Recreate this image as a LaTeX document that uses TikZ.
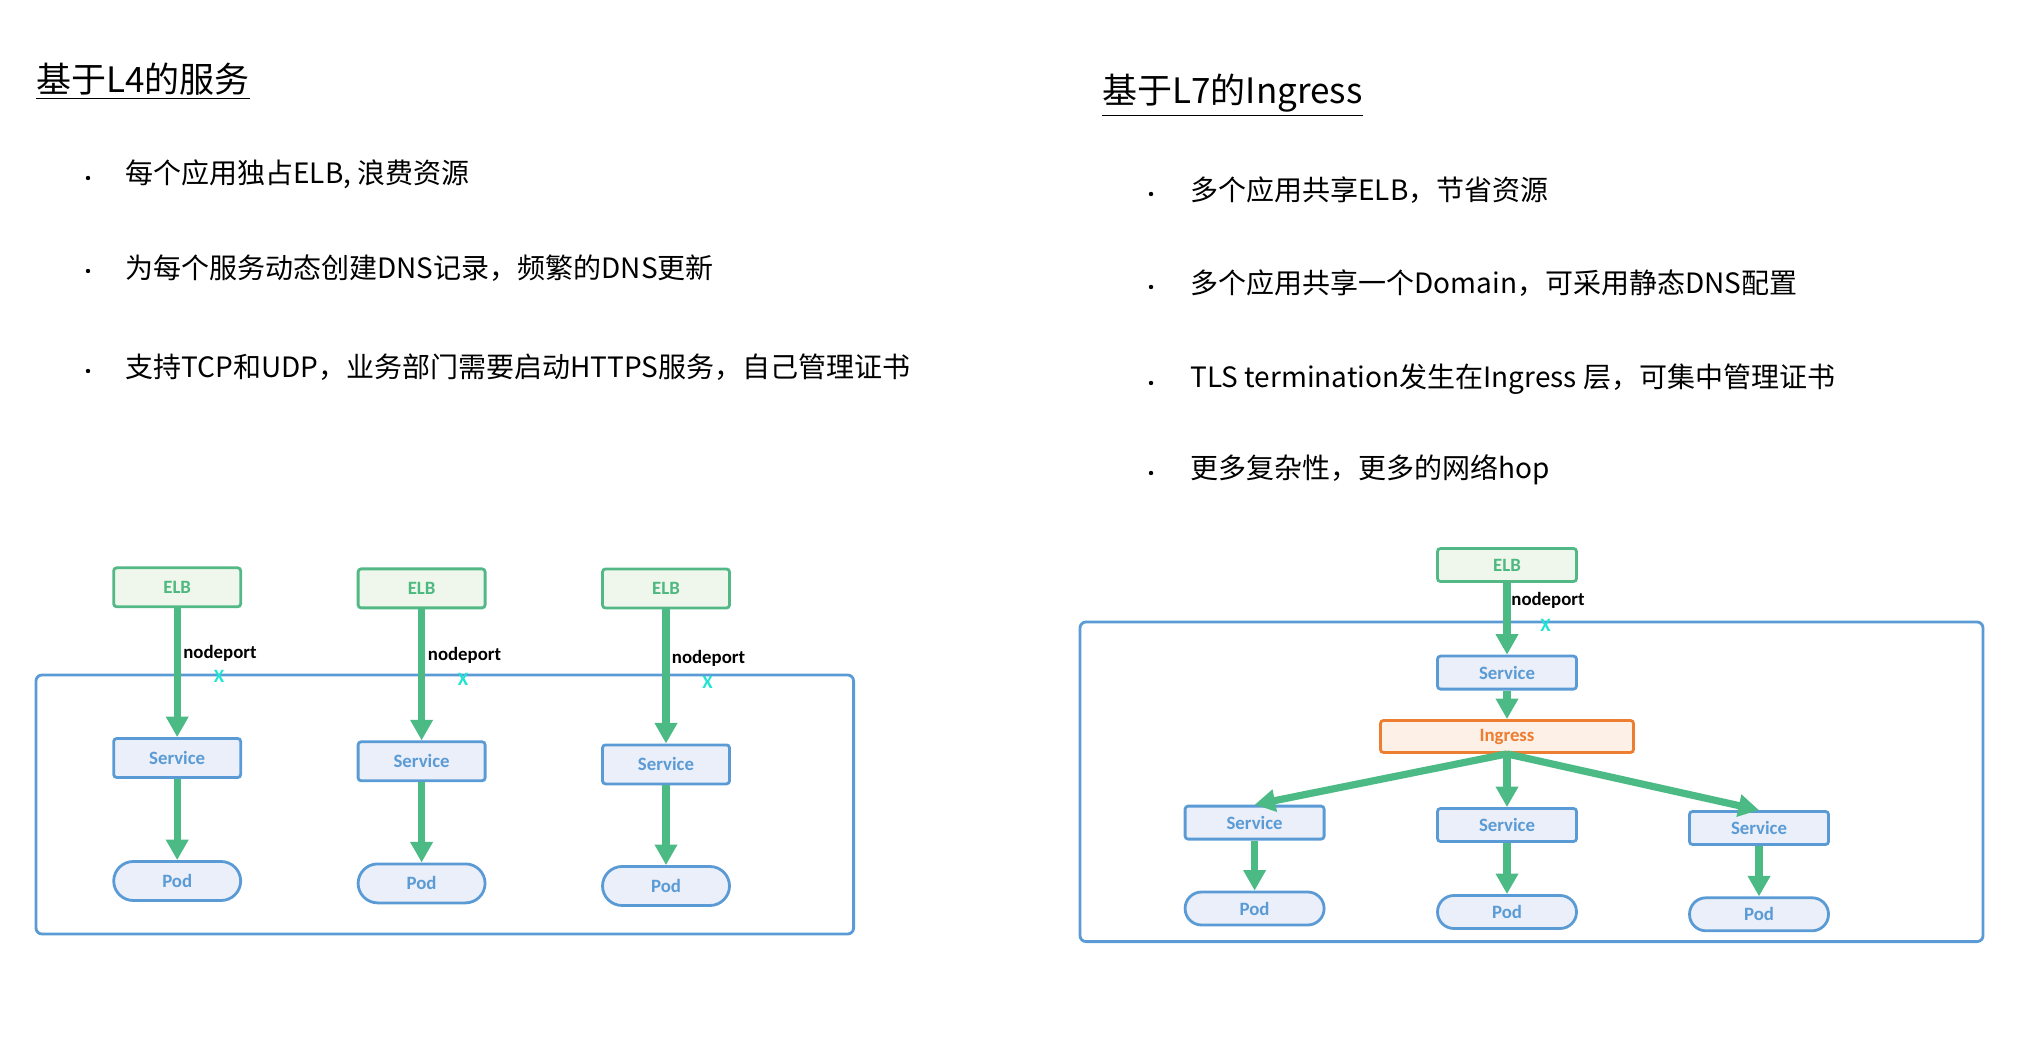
\documentclass[tikz,border=0pt]{standalone}
\usepackage{fontspec}
\setmainfont{Noto Sans CJK SC}
\newfontfamily\lblfont{Carlito}
\usetikzlibrary{arrows.meta}
\definecolor{flowgreen}{RGB}{75,186,133}
\definecolor{elbline}{RGB}{82,185,134}
\definecolor{elbfill}{RGB}{239,247,236}
\definecolor{elbtext}{RGB}{77,184,127}
\definecolor{blueline}{RGB}{91,155,213}
\definecolor{bluefill}{RGB}{234,239,249}
\definecolor{orline}{RGB}{237,125,49}
\definecolor{orfill}{RGB}{252,240,231}
\definecolor{xcyan}{RGB}{30,228,210}
\begin{document}
\begin{tikzpicture}[x=0.5pt,y=-0.5pt,
  lbl/.style={font=\lblfont\bfseries\fontsize{9.4}{11}\selectfont, inner sep=0pt},
  elbbox/.style={lbl, draw=elbline, fill=elbfill, text=elbtext, line width=1.4pt, rounded corners=1.5pt},
  svcbox/.style={lbl, draw=blueline, fill=bluefill, text=blueline, line width=1.4pt, rounded corners=1.5pt},
  ingbox/.style={lbl, draw=orline, fill=orfill, text=orline, line width=1.4pt, rounded corners=1.5pt, minimum width=126.5pt, minimum height=16pt},
  lsize/.style={minimum width=63.5pt, minimum height=19.5pt},
  rsize/.style={minimum width=69.5pt, minimum height=16.5pt},
  lpod/.style={svcbox, lsize, rounded corners=9.8pt},
  rpod/.style={svcbox, rsize, rounded corners=8.2pt},
  cluster/.style={draw=blueline, line width=1.4pt, rounded corners=3pt},
  flow/.style={draw=flowgreen, line width=3.6pt, -{Triangle[width=10.8pt,length=10.3pt]}},
  port/.style={lbl, anchor=west},
  xmark/.style={lbl, text=xcyan},
  title/.style={anchor=west, inner sep=0pt, font=\fontsize{17.5}{20}\selectfont},
  item/.style={anchor=west, inner sep=0pt, font=\fontsize{14}{17}\selectfont},
  dot/.style={circle, fill=black, inner sep=0pt, minimum size=2.2pt}
]
\useasboundingbox (0,0) rectangle (2028,1052);

% ---------- titles ----------
\node[title] (t1) at (36,81) {\underline{基于L4的服务}};
\node[title] (t2) at (1102,95) {\underline{基于L7的Ingress}};

% ---------- left bullets ----------
\node[dot] (d1) at (88,178) {};
\node[item] (b1) at (125,174.6) {每个应用独占ELB, 浪费资源};
\node[dot] (d2) at (88,271) {};
\node[item] (b2) at (125,267.7) {为每个服务动态创建DNS记录，频繁的DNS更新};
\node[dot] (d3) at (88,371) {};
\node[item] (b3) at (125,367.3) {支持TCP和UDP，业务部门需要启动HTTPS服务，自己管理证书};

% ---------- right bullets ----------
\node[dot] (e1) at (1151,194) {};
\node[item] (c1) at (1190,190) {多个应用共享ELB，节省资源};
\node[dot] (e2) at (1151,287) {};
\node[item] (c2) at (1190,283) {多个应用共享一个Domain，可采用静态DNS配置};
\node[dot] (e3) at (1151,383) {};
\node[item] (c3) at (1190,379) {TLS termination发生在Ingress 层，可集中管理证书};
\node[dot] (e4) at (1151,473) {};
\node[item] (c4) at (1190,469.5) {更多复杂性，更多的网络hop};

% ---------- left diagram ----------
\draw[cluster] (36,675) rectangle (853.6,934);

\node[elbbox, lsize] (elb1) at (177.2,587.3) {ELB};
\node[svcbox, lsize] (svc1) at (177.2,758) {Service};
\node[lpod] (pod1) at (177.2,881) {Pod};
\node[elbbox, lsize] (elb2) at (421.6,588.4) {ELB};
\node[svcbox, lsize] (svc2) at (421.6,761.3) {Service};
\node[lpod] (pod2) at (421.6,883.4) {Pod};
\node[elbbox, lsize] (elb3) at (666,588.5) {ELB};
\node[svcbox, lsize] (svc3) at (666,764.4) {Service};
\node[lpod] (pod3) at (666,886) {Pod};

\draw[flow] (elb1.south) -- (svc1.north);
\draw[flow] (svc1.south) -- (pod1.north);
\draw[flow] (elb2.south) -- (svc2.north);
\draw[flow] (svc2.south) -- (pod2.north);
\draw[flow] (elb3.south) -- (svc3.north);
\draw[flow] (svc3.south) -- (pod3.north);

\node[port] (np1) at (183,653) {nodeport};
\node[port] (np2) at (427.5,655.8) {nodeport};
\node[port] (np3) at (671.5,658) {nodeport};
\node[xmark] (x1) at (219,676) {X};
\node[xmark] (x2) at (463,679.5) {X};
\node[xmark] (x3) at (707.5,682) {X};

% ---------- right diagram ----------
\draw[cluster] (1080,622) rectangle (1983,941.6);

\node[elbbox, rsize] (relb) at (1507,565) {ELB};
\node[svcbox, rsize] (rsvc) at (1507,672.6) {Service};
\node[ingbox] (ing) at (1507,736.5) {Ingress};
\node[svcbox, rsize] (svcl) at (1254.6,822.6) {Service};
\node[svcbox, rsize] (svcm) at (1507,825) {Service};
\node[svcbox, rsize] (svcr) at (1759,828) {Service};
\node[rpod] (podl) at (1254.6,908.5) {Pod};
\node[rpod] (podm) at (1507,912) {Pod};
\node[rpod] (podr) at (1759,914.3) {Pod};

\draw[flow] (relb.south) -- (rsvc.north);
\draw[flow] (rsvc.south) -- (ing.north);
\draw[flow] (ing.south) -- (svcl.north);
\draw[flow] (ing.south) -- (svcm.north);
\draw[flow] (ing.south) -- (svcr.north);
\draw[flow] (svcl.south) -- (podl.north);
\draw[flow] (svcm.south) -- (podm.north);
\draw[flow] (svcr.south) -- (podr.north);

\node[port] (rnp) at (1511,600) {nodeport};
\node[xmark] (rx) at (1545.6,625) {X};
\end{tikzpicture}
\end{document}
